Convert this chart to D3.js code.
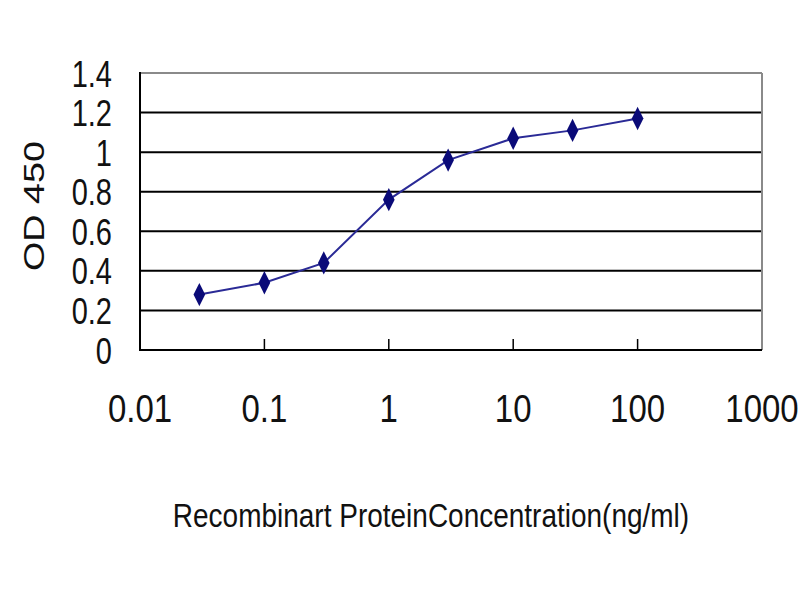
<!DOCTYPE html>
<meta charset = "utf-8">
<style>

body {
  margin: 0;
  background: #fff;
}

text {
  font-family: "Liberation Sans", Arial, sans-serif;
  fill: #111;
}

.grid line {
  stroke: #000;
  stroke-width: 2;
}

  </style>

  <body>
  </body>

  <script src = "https://cdn.jsdelivr.net/npm/d3@7/dist/d3.min.js"></script>

<script>

// values
var concentrations = [0.03, 0.1, 0.3, 1, 3, 10, 30, 100];
var od450 = [0.28, 0.34, 0.44, 0.76, 0.96, 1.07, 1.11, 1.17];

var xTicks = [0.01, 0.1, 1, 10, 100, 1000];
var xTickLabels = ["0.01", "0.1", "1", "10", "100", "1000"];
var yTicks = [0, 0.2, 0.4, 0.6, 0.8, 1, 1.2, 1.4];
var yTickLabels = ["0", "0.2", "0.4", "0.6", "0.8", "1", "1.2", "1.4"];

var margin = {top: 73, right: 38, bottom: 250, left: 140},
  width = 800 - margin.left - margin.right,
  height = 600 - margin.top - margin.bottom;

var svg = d3.select("body")
  .append("svg")
    .attr("width", 800)
    .attr("height", 600)
  .append("g")
    .attr("transform",
        "translate(" + margin.left + "," + margin.top + ")");

var x = d3.scaleLog()
    .domain([0.01, 1000])
    .range([0, width]);

var y = d3.scaleLinear()
    .domain([0, 1.4])
    .range([height, 0]);

//horizontal grid lines
svg.append("g")
    .attr("class", "grid")
  .selectAll("line")
    .data(yTicks.slice(1, -1))
    .enter()
    .append("line")
    .attr("x1", 0)
    .attr("x2", width)
    .attr("y1", function(d) {return y(d)})
    .attr("y2", function(d) {return y(d)});

//frame: top and right grey, left and bottom black
svg.append("line")
    .attr("x1", 0).attr("x2", width)
    .attr("y1", y(1.4)).attr("y2", y(1.4))
    .style("stroke", "#8a8a8a").style("stroke-width", 2);
svg.append("line")
    .attr("x1", width).attr("x2", width)
    .attr("y1", y(1.4)).attr("y2", y(0))
    .style("stroke", "#8a8a8a").style("stroke-width", 2);
svg.append("line")
    .attr("x1", 0).attr("x2", 0)
    .attr("y1", y(1.4) - 1).attr("y2", y(0) + 1)
    .style("stroke", "#000").style("stroke-width", 2);
svg.append("line")
    .attr("x1", 0).attr("x2", width)
    .attr("y1", y(0)).attr("y2", y(0))
    .style("stroke", "#000").style("stroke-width", 2);

//small inside ticks on the x axis
svg.selectAll(".xtick")
    .data(xTicks.slice(1, -1))
    .enter()
    .append("line")
    .attr("class", "xtick")
    .attr("x1", function(d) {return x(d)})
    .attr("x2", function(d) {return x(d)})
    .attr("y1", y(0))
    .attr("y2", y(0) - 11)
    .style("stroke", "#000")
    .style("stroke-width", 1.5);

//tick labels (the reference is stretched vertically)
svg.selectAll(".ylab")
    .data(yTicks)
    .enter()
    .append("g")
    .attr("class", "ylab")
    .attr("transform", function(d) {return "translate(-28," + y(d) + ") scale(1,1.3)"})
    .append("text")
    .attr("text-anchor", "end")
    .attr("dy", "0.36em")
    .style("font-size", "29px")
    .text(function(d, i) {return yTickLabels[i]});

svg.selectAll(".xlab")
    .data(xTicks)
    .enter()
    .append("g")
    .attr("class", "xlab")
    .attr("transform", function(d) {return "translate(" + x(d) + "," + (y(0) + 72) + ") scale(1,1.15)"})
    .append("text")
    .attr("text-anchor", "middle")
    .style("font-size", "33px")
    .text(function(d, i) {return xTickLabels[i]});

//axis titles
svg.append("g")
    .attr("transform", "translate(-96," + (206 - margin.top) + ") rotate(-90) scale(1.3,1)")
    .append("text")
    .attr("text-anchor", "middle")
    .style("font-size", "29px")
    .text("OD 450");

svg.append("g")
    .attr("transform", "translate(" + (431 - margin.left) + "," + (527 - margin.top) + ") scale(1,1.2)")
    .append("text")
    .attr("text-anchor", "middle")
    .style("font-size", "28px")
    .text("Recombinart ProteinConcentration(ng/ml)");

//curve
var points = concentrations.map(function(c, i) {return [c, od450[i]]});

var line = d3.line()
    .x(function(d) {return x(d[0])})
    .y(function(d) {return y(d[1])});

svg.append("path")
    .datum(points)
    .attr("d", line)
    .style("fill", "none")
    .style("stroke", "#2a2a96")
    .style("stroke-width", 2);

svg.selectAll(".pt")
    .data(points)
    .enter()
    .append("path")
    .attr("class", "pt")
    .attr("d", d3.symbol().type(d3.symbolDiamond).size(130))
    .attr("transform", function(d) {return "translate(" + x(d[0]) + "," + y(d[1]) + ") scale(0.95,1.1)"})
    .style("fill", "#0a0a78");

</script>
